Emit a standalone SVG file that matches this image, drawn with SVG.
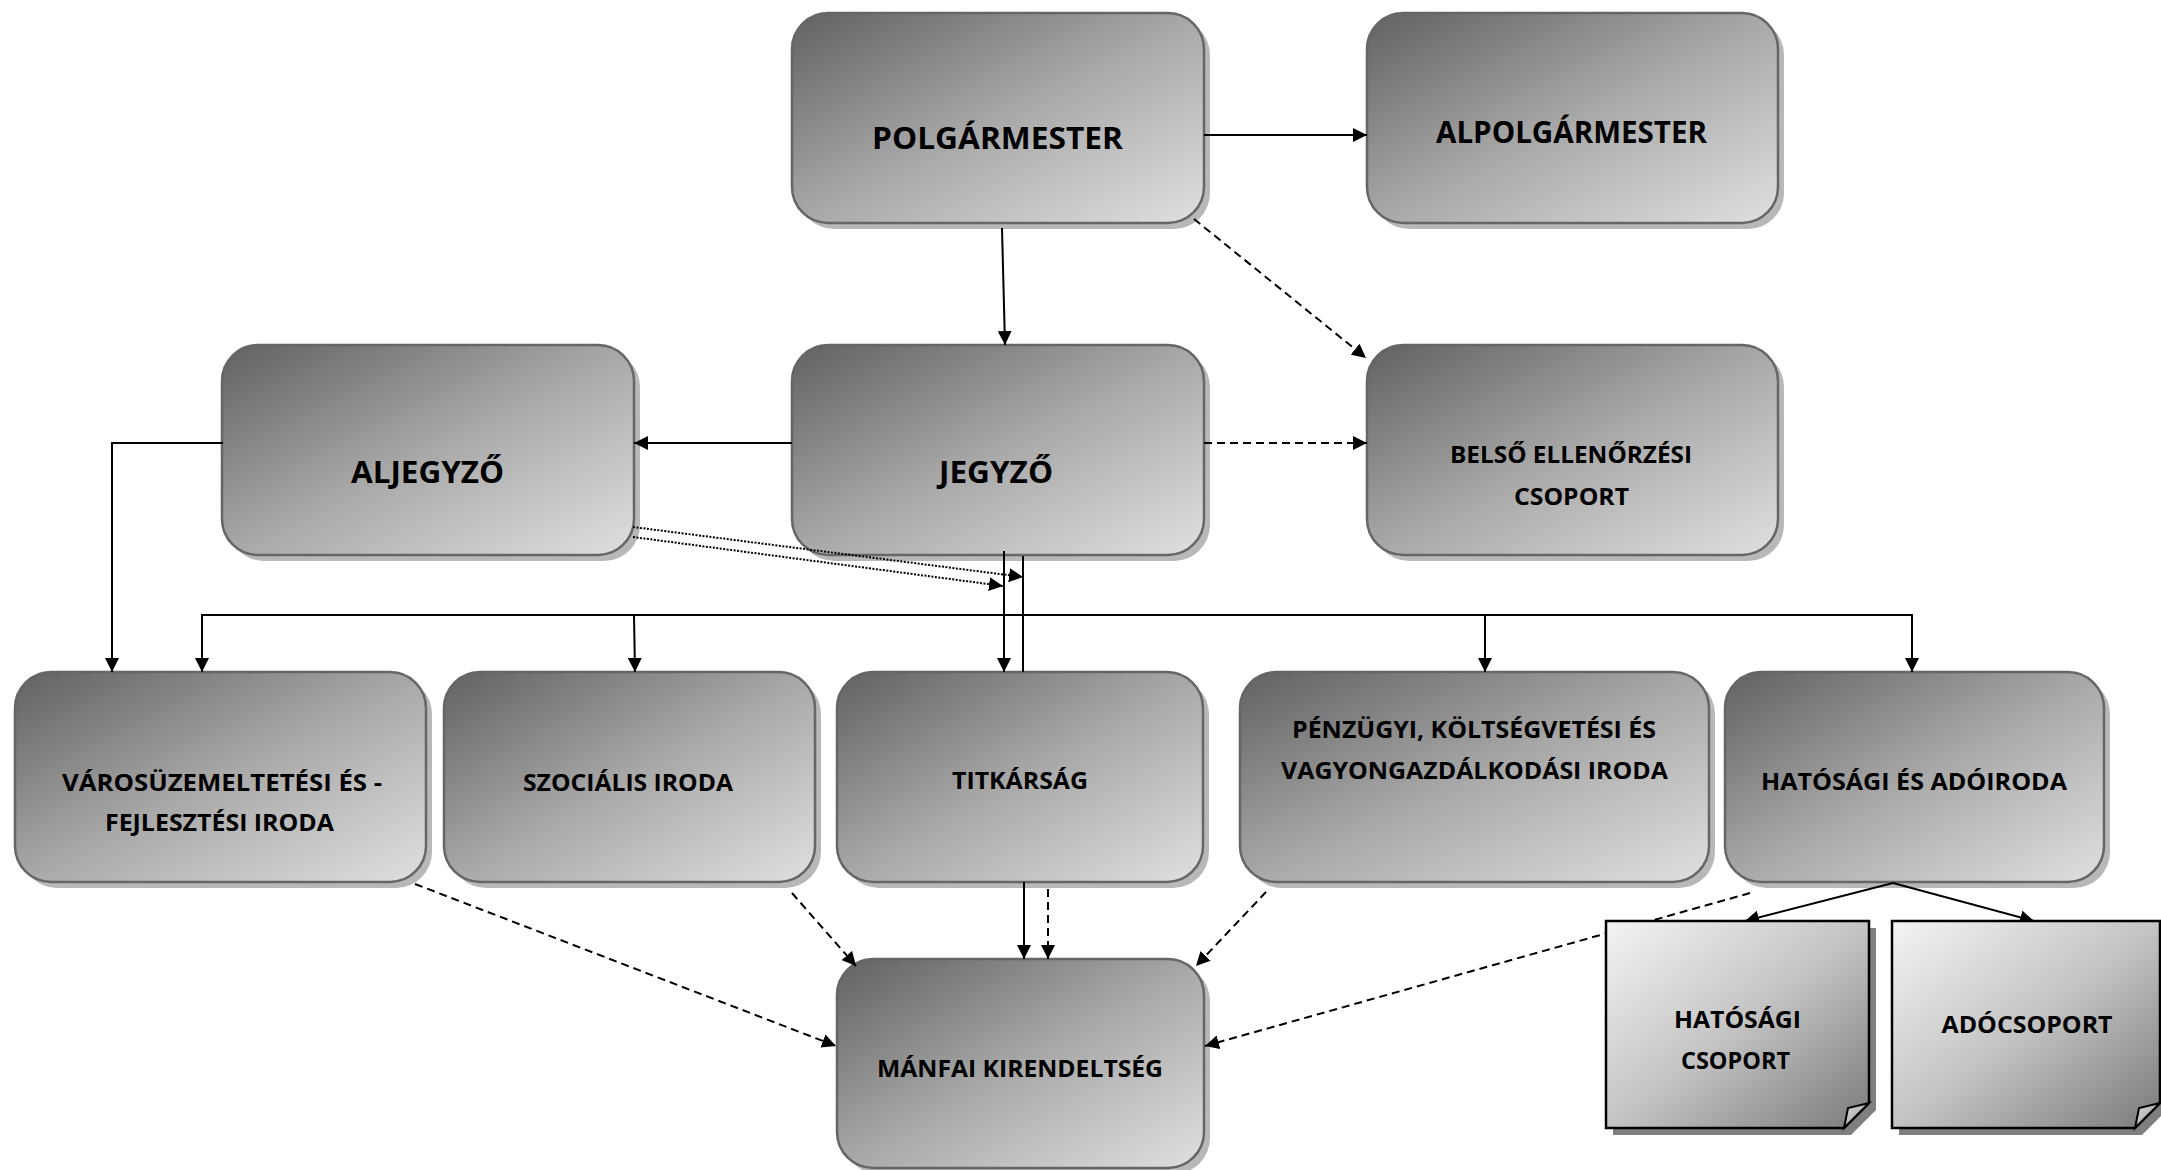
<svg xmlns="http://www.w3.org/2000/svg" width="2161" height="1170" viewBox="0 0 2161 1170">
<defs>
<linearGradient id="gBox" x1="0" y1="0" x2="1" y2="1">
<stop offset="0" stop-color="#616161"/>
<stop offset="0.5" stop-color="#a8a8a8"/>
<stop offset="1" stop-color="#e0e0e0"/>
</linearGradient>
<linearGradient id="gPage" x1="0" y1="0" x2="1" y2="1">
<stop offset="0" stop-color="#f4f4f4"/>
<stop offset="0.5" stop-color="#c4c4c4"/>
<stop offset="1" stop-color="#7a7a7a"/>
</linearGradient>
<linearGradient id="gFold" x1="0" y1="0" x2="1" y2="1">
<stop offset="0" stop-color="#d8d8d8"/>
<stop offset="1" stop-color="#9a9a9a"/>
</linearGradient>
<marker id="arr" viewBox="0 0 10 10" refX="10" refY="5" markerWidth="14" markerHeight="14" markerUnits="userSpaceOnUse" orient="auto">
<path d="M0,0 L10,5 L0,10 Z" fill="#000"/>
</marker>
</defs>
<style>
.shadow{fill:#b8b8b8}
.box{fill:url(#gBox);stroke:#666;stroke-width:2.5}
.pshadow{fill:#7f7f7f}
.page{fill:url(#gPage);stroke:#000;stroke-width:2.5}
.fold{fill:url(#gFold);stroke:#000;stroke-width:2}
.t{font-family:"Open Sans","Liberation Sans",sans-serif;font-weight:700;fill:#000;text-anchor:middle}
.big{font-size:30px}
.sm{font-size:24px}
.c{fill:none;stroke:#000;stroke-width:2}
.dash{stroke-dasharray:8 5}
.dot{stroke-dasharray:2 1.5}
.a{marker-end:url(#arr)}
</style>
<rect width="2161" height="1170" fill="#fff"/>

<g id="polgarmester">
<rect class="shadow" x="798" y="19" width="412" height="210" rx="36"/>
<rect class="box" x="792" y="13" width="412" height="210" rx="36"/>
<text class="t big" x="997.5" y="149" textLength="251" lengthAdjust="spacingAndGlyphs">POLGÁRMESTER</text>
</g>
<g id="alpolgarmester">
<rect class="shadow" x="1373" y="19" width="411" height="210" rx="36"/>
<rect class="box" x="1367" y="13" width="411" height="210" rx="36"/>
<text class="t big" x="1571.5" y="143" textLength="271" lengthAdjust="spacingAndGlyphs">ALPOLGÁRMESTER</text>
</g>
<g id="aljegyzo">
<rect class="shadow" x="228" y="351" width="412" height="210" rx="36"/>
<rect class="box" x="222" y="345" width="412" height="210" rx="36"/>
<text class="t big" x="427.5" y="483" textLength="153" lengthAdjust="spacingAndGlyphs">ALJEGYZŐ</text>
</g>
<g id="jegyzo">
<rect class="shadow" x="798" y="351" width="412" height="210" rx="36"/>
<rect class="box" x="792" y="345" width="412" height="210" rx="36"/>
<text class="t big" x="996" y="483" textLength="114" lengthAdjust="spacingAndGlyphs">JEGYZŐ</text>
</g>
<g id="belso-ellenorzesi-csoport">
<rect class="shadow" x="1373" y="351" width="411" height="210" rx="36"/>
<rect class="box" x="1367" y="345" width="411" height="210" rx="36"/>
<text class="t sm" x="1571" y="463" textLength="242" lengthAdjust="spacingAndGlyphs">BELSŐ ELLENŐRZÉSI</text>
<text class="t sm" x="1571.5" y="505" textLength="115" lengthAdjust="spacingAndGlyphs">CSOPORT</text>
</g>
<g id="varosuzemeltetesi">
<rect class="shadow" x="21" y="678" width="411" height="210" rx="36"/>
<rect class="box" x="15" y="672" width="411" height="210" rx="36"/>
<text class="t sm" x="222" y="791" textLength="320" lengthAdjust="spacingAndGlyphs">VÁROSÜZEMELTETÉSI ÉS -</text>
<text class="t sm" x="219.5" y="831" textLength="229" lengthAdjust="spacingAndGlyphs">FEJLESZTÉSI IRODA</text>
</g>
<g id="szocialis-iroda">
<rect class="shadow" x="450" y="678" width="371" height="210" rx="36"/>
<rect class="box" x="444" y="672" width="371" height="210" rx="36"/>
<text class="t sm" x="628" y="791" textLength="210" lengthAdjust="spacingAndGlyphs">SZOCIÁLIS IRODA</text>
</g>
<g id="titkarsag">
<rect class="shadow" x="843" y="678" width="366" height="210" rx="36"/>
<rect class="box" x="837" y="672" width="366" height="210" rx="36"/>
<text class="t sm" x="1020" y="789" textLength="136" lengthAdjust="spacingAndGlyphs">TITKÁRSÁG</text>
</g>
<g id="penzugyi">
<rect class="shadow" x="1246" y="678" width="469" height="210" rx="36"/>
<rect class="box" x="1240" y="672" width="469" height="210" rx="36"/>
<text class="t sm" x="1474" y="738" textLength="364" lengthAdjust="spacingAndGlyphs">PÉNZÜGYI, KÖLTSÉGVETÉSI ÉS</text>
<text class="t sm" x="1474.5" y="779" textLength="387" lengthAdjust="spacingAndGlyphs">VAGYONGAZDÁLKODÁSI IRODA</text>
</g>
<g id="hatosagi-es-adoiroda">
<rect class="shadow" x="1731" y="678" width="379" height="210" rx="36"/>
<rect class="box" x="1725" y="672" width="379" height="210" rx="36"/>
<text class="t sm" x="1914" y="790" textLength="306" lengthAdjust="spacingAndGlyphs">HATÓSÁGI ÉS ADÓIRODA</text>
</g>
<g id="manfai-kirendeltseg">
<rect class="shadow" x="843" y="965" width="367" height="209" rx="36"/>
<rect class="box" x="837" y="959" width="367" height="209" rx="36"/>
<text class="t sm" x="1020" y="1077" textLength="286" lengthAdjust="spacingAndGlyphs">MÁNFAI KIRENDELTSÉG</text>
</g>

<g id="connectors">
<path class="c a" d="M1204,135 H1367"/>
<path class="c a" d="M1002,228 L1005,345"/>
<path class="c dash a" d="M1194,219 L1366,358"/>
<path class="c a" d="M792,443 H634"/>
<path class="c dash a" d="M1204,443 H1367"/>
<path class="c a" d="M223,443 H112 V672"/>
<path class="c a" d="M1023,615 H202 V672"/>
<path class="c a" d="M1023,615 H1912 V672"/>
<path class="c a" d="M634,615 L635,672"/>
<path class="c a" d="M1485,615 V672"/>
<path class="c a" d="M1004,551 V672"/>
<path class="c" d="M1023,556 V672"/>
<path class="c dot a" d="M633,527 L1023,577"/>
<path class="c dot a" d="M633,537 L1003,586"/>
<path class="c dash a" d="M415,884 L836,1046"/>
<path class="c dash a" d="M792,893 L856,966"/>
<path class="c a" d="M1024,882 V959"/>
<path class="c dash a" d="M1048,889 V959"/>
<path class="c dash a" d="M1266,892 L1196,966"/>
<path class="c dash a" d="M1750,893 L1205,1046"/>
<path class="c a" d="M1893,883 L1745,921"/>
<path class="c a" d="M1893,883 L2034,921"/>
</g>

<g id="hatosagi-csoport">
<path class="pshadow" d="M1613,928 H1876 V1110 L1851,1135 H1613 Z"/>
<path class="page" d="M1606,921 H1869 V1103 L1844,1128 H1606 Z"/>
<path class="fold" d="M1869,1103 L1848,1108 L1844,1128 Z"/>
<text class="t sm" x="1737.5" y="1028" textLength="127" lengthAdjust="spacingAndGlyphs">HATÓSÁGI</text>
<text class="t sm" x="1735.5" y="1069" textLength="109" lengthAdjust="spacingAndGlyphs">CSOPORT</text>
</g>
<g id="adocsoport">
<path class="pshadow" d="M1899,928 H2167 V1110 L2142,1135 H1899 Z"/>
<path class="page" d="M1892,921 H2160 V1103 L2135,1128 H1892 Z"/>
<path class="fold" d="M2160,1103 L2139,1108 L2135,1128 Z"/>
<text class="t sm" x="2027" y="1033" textLength="171" lengthAdjust="spacingAndGlyphs">ADÓCSOPORT</text>
</g>
</svg>
